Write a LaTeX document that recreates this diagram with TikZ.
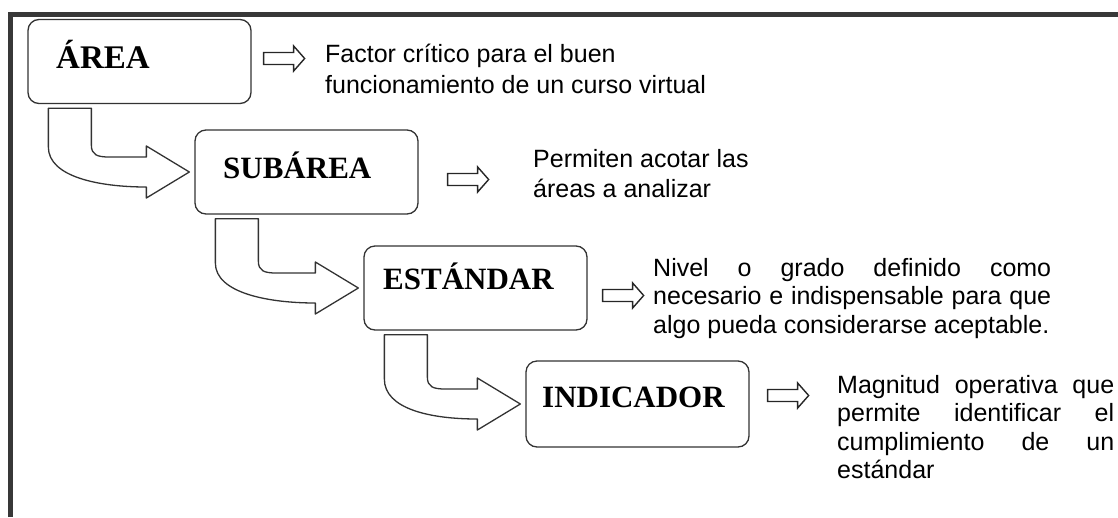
\documentclass[tikz,border=0pt]{standalone}
\usepackage{fontspec}
\setmainfont{Liberation Serif}
\setsansfont{Liberation Sans}
\usetikzlibrary{calc}

\newcommand{\flechacurva}[2]{%
\path (#1.south west) coordinate (s) (#2.west) coordinate (t);
\draw [curva] ($(s)+(21,4)$) -- ($(s)+(64,4)$) -- ($(s|-t)+(64,-27)$)
  .. controls ($(s|-t)+(64,-17)$) and ($(s|-t)+(70,-15)$) .. ($(s|-t)+(82,-15)$)
  -- ($(t)+(-48,-15)$) -- ($(t)+(-48,-26)$) -- ($(t)+(-5,0)$) -- ($(t)+(-48,26)$) -- ($(t)+(-48,15)$)
  .. controls ($(t)+(-95,15)$) and ($(s|-t)+(21,5)$) .. ($(s|-t)+(21,-25)$) -- cycle;}
\newcommand{\flechita}[1]{%
\draw [hueca] #1 ++(0,-6) -- ++(30,0) -- ++(0,-6.5) -- ++(11,12.5) -- ++(-11,12.5) -- ++(0,-6.5) -- ++(-30,0) -- cycle;}

\begin{document}
\begin{tikzpicture}[x=1pt,y=-1pt,
caja/.style={draw=black!80,line width=1.3pt,rounded corners=11pt,minimum width=223pt,minimum height=84pt,fill=white},
titulo/.style={font=\bfseries\fontsize{31}{31}\selectfont},
desc/.style={font=\sffamily\fontsize{25}{31}\selectfont,align=left},
curva/.style={draw=black!80,line width=1.3pt,fill=white,line join=round},
hueca/.style={draw=black!85,line width=1.4pt,fill=white}]
\tikzstyle{every node}+=[inner sep=0pt]
\useasboundingbox (0,0) rectangle (1118,517);
\draw [line width=5pt,black!78] (10.5,517) -- (10.5,14.5) -- (1118,14.5);
\node [caja] (area) at (139.5,61.5) {};
\node [caja] (subarea) at (306.5,172) {};
\node [caja] (estandar) at (475.5,288) {};
\node [caja,minimum height=86pt] (indicador) at (637.5,404) {};
\node [titulo,anchor=base west,font=\bfseries\fontsize{33}{33}\selectfont] (areat) at (56,68) {ÁREA};
\node [titulo,anchor=base west] (subareat) at (223,178) {SUBÁREA};
\node [titulo,anchor=base west] (estandart) at (383,289) {ESTÁNDAR};
\node [titulo,anchor=base west] (indicadort) at (542,407) {INDICADOR};
\node [desc,anchor=north west] (factor) at (325,44) {Factor crítico para el buen\\funcionamiento de un curso virtual};
\node [desc,anchor=north west,font=\sffamily\fontsize{25}{30}\selectfont] (acotar) at (533,149) {Permiten acotar las\\áreas a analizar};
\node [desc,anchor=north west,text width=398pt,align=justify,font=\sffamily\fontsize{25}{28.5}\selectfont] (nivel) at (653,258) {Nivel o grado definido como\linebreak necesario e indispensable para que\linebreak algo pueda considerarse aceptable.};
\node [desc,anchor=north west,text width=277pt,align=justify,font=\sffamily\fontsize{25}{28.5}\selectfont] (magnitud) at (837,375) {Magnitud operativa que\linebreak permite identificar el\linebreak cumplimiento de un\linebreak estándar};
\flechacurva{area}{subarea}
\flechacurva{subarea}{estandar}
\flechacurva{estandar}{indicador}
\flechita{($(area.east)+(12,-3)$)}
\flechita{($(subarea.east)+(29,7.5)$)}
\flechita{($(estandar.east)+(15,7.5)$)}
\flechita{($(indicador.east)+(18,-8.5)$)}
\end{tikzpicture}
\end{document}
